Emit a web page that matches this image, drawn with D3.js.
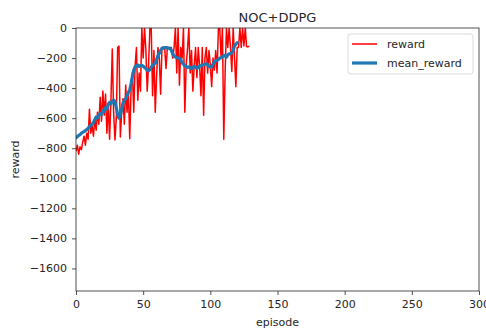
<!DOCTYPE html>
<html lang="en">
<head>
<meta charset="UTF-8">
<title>NOC+DDPG</title>
<script src="https://d3js.org/d3.v7.min.js"></script>
<style>
  body { margin: 0; background: #fff; }
  svg { display: block; font-family: "DejaVu Sans", sans-serif; }
</style>
</head>
<body>
<svg width="486" height="332"></svg>
<script>
// reward per episode
var reward = [
  -820, -780, -840, -790, -810, -760, -720, -780, -700, -740,
  -540, -700, -650, -720, -600, -680, -560, -640, -460, -620,
  -420, -580, -440, -700, -500, -740, -480, -140, -560, -745,
  -600, -130, -120, -725, -560, -470, -640, -380, -560, -420,
  -737, -400, -300, -560, -250, -130, -480, -300, -420, 0,
  -200, 0, -140, -420, -250, 0, 0, -450, -150, -560,
  -320, -130, -200, -440, -130, -140, -130, -270, -130, -130,
  -130, -130, -200, -130, 0, -300, 0, -380, -130, -200,
  0, -560, -250, -140, 0, -300, -150, -420, -250, -130,
  -330, -130, -250, -450, -130, -580, -200, -130, -300, -150,
  -250, -390, -200, -280, -150, -300, 0, 0, -200, 0,
  -740, -300, 0, -130, 0, -130, -290, 0, -200, -390,
  -130, -130, 0, -130, 0, -120, 0, -125, -125, -120
];
// running mean as plotted
var meanReward = [
  -730, -722, -715, -710, -700, -695, -690, -682, -675, -668,
  -655, -648, -640, -628, -610, -592, -598, -580, -570, -575,
  -550, -555, -530, -540, -510, -495, -505, -485, -480, -490,
  -530, -575, -600, -580, -540, -500, -480, -470, -450, -430,
  -412, -370, -320, -280, -258, -250, -245, -255, -250, -248,
  -255, -262, -270, -280, -285, -278, -260, -250, -240, -235,
  -210, -185, -168, -150, -135, -132, -130, -130, -132, -135,
  -135, -150, -170, -188, -192, -198, -200, -202, -210, -230,
  -240, -250, -258, -262, -258, -265, -270, -262, -255, -262,
  -268, -262, -255, -250, -248, -245, -240, -238, -245, -255,
  -260, -258, -240, -225, -218, -215, -210, -200, -198, -190,
  -185, -182, -195, -178, -172, -171, -165, -150, -120, -108,
  -98
];
var xTicks = [0, 50, 100, 150, 200, 250, 300];
var yTicks = [0, -200, -400, -600, -800, -1000, -1200, -1400, -1600];
var seriesNames = ["reward", "mean_reward"];
var seriesColors = ["#ff0000", "#1f77b4"];

var margin = {left: 76, right: 7, top: 28, bottom: 41};
var W = 486, H = 332;
var iw = W - margin.left - margin.right, ih = H - margin.top - margin.bottom;

var svg = d3.select("svg");
var g = svg.append("g").attr("transform", "translate(" + margin.left + "," + margin.top + ")");

var x = d3.scaleLinear().domain([0, 300]).range([0, iw]);
var y = d3.scaleLinear().domain([-1750, 0]).range([ih, 0]);

svg.append("defs").append("clipPath").attr("id", "clip")
  .append("rect").attr("width", iw).attr("height", ih);

var line = d3.line()
  .x(function(d, i) { return x(i); })
  .y(function(d) { return y(d); });

var plot = g.append("g").attr("clip-path", "url(#clip)");
plot.append("path").datum(reward)
  .attr("fill", "none").attr("stroke", seriesColors[0]).attr("stroke-width", 1.5)
  .attr("stroke-linejoin", "round").attr("d", line);
plot.append("path").datum(meanReward)
  .attr("fill", "none").attr("stroke", seriesColors[1]).attr("stroke-width", 3.2)
  .attr("stroke-linejoin", "round").attr("stroke-linecap", "round").attr("d", line);

var fmt = function(d) { return d < 0 ? "\u2212" + Math.abs(d) : String(d); };

var xAxis = g.append("g").attr("transform", "translate(0," + ih + ")")
  .call(d3.axisBottom(x).tickValues(xTicks).tickFormat(fmt).tickSize(4).tickPadding(5));
var yAxis = g.append("g")
  .call(d3.axisLeft(y).tickValues(yTicks).tickFormat(fmt).tickSize(4).tickPadding(5));
[xAxis, yAxis].forEach(function(a) {
  a.selectAll("text").attr("font-size", 11).attr("fill", "#262626")
    .attr("font-family", "DejaVu Sans, sans-serif");
  a.selectAll("line").attr("stroke", "#262626").attr("stroke-width", 0.8);
  a.select(".domain").remove();
});

// frame
g.append("rect").attr("width", iw).attr("height", ih)
  .attr("fill", "none").attr("stroke", "#262626").attr("stroke-width", 0.8);

// title and axis labels
svg.append("text").attr("x", margin.left + iw / 2).attr("y", 22)
  .attr("text-anchor", "middle").attr("font-size", 13).attr("fill", "#262626").text("NOC+DDPG");
svg.append("text").attr("x", margin.left + iw / 2).attr("y", 326)
  .attr("text-anchor", "middle").attr("font-size", 11).attr("fill", "#262626").text("episode");
svg.append("text").attr("transform", "translate(19," + (margin.top + ih / 2) + ") rotate(-90)")
  .attr("text-anchor", "middle").attr("font-size", 11).attr("fill", "#262626").text("reward");

// legend
var lg = svg.append("g").attr("transform", "translate(348,34)");
lg.append("rect").attr("width", 125).attr("height", 40).attr("rx", 2.5)
  .attr("fill", "#fff").attr("fill-opacity", 0.8).attr("stroke", "#d9d9d9").attr("stroke-width", 1);
seriesNames.forEach(function(name, i) {
  var yy = 10 + i * 19;
  lg.append("line").attr("x1", 4).attr("x2", 29).attr("y1", yy).attr("y2", yy)
    .attr("stroke", seriesColors[i]).attr("stroke-width", i === 0 ? 1.5 : 3.2);
  lg.append("text").attr("x", 39).attr("y", yy + 4)
    .attr("font-size", 11).attr("fill", "#262626").text(name);
});
</script>
</body>
</html>
